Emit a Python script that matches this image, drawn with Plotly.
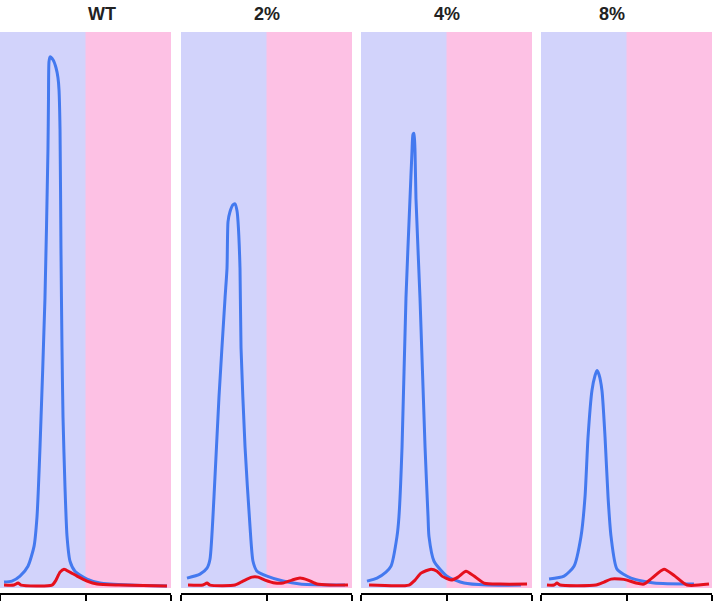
import plotly.graph_objects as go

# elution profiles (arbitrary units), one panel per sample
panels = ["WT", "2%", "4%", "8%"]

wt_blue_x = [0.47, 1.40, 2.34, 3.27, 3.98, 4.33, 4.68, 5.26, 5.61, 5.67, 5.73, 5.85, 6.20, 6.55, 6.78, 6.90,
             7.02, 7.13, 7.25, 7.37, 7.60, 7.84, 8.19, 8.77, 10.18, 11.70, 15.20, 19.53]
wt_blue_y = [2.2, 2.4, 3.4, 5.4, 9.4, 15.4, 29.4, 59.4, 89.4, 99.4, 107.0, 108.0, 107.4, 105.8, 103.8, 101.4,
             93.4, 69.4, 49.4, 35.4, 21.4, 11.4, 6.4, 4.4, 2.8, 2.0, 1.6, 1.4]
wt_red_x = [0.47, 1.64, 2.11, 2.46, 6.08, 6.55, 7.02, 7.49, 8.19, 9.01, 10.18, 11.35, 14.04, 19.53]
wt_red_y = [1.6, 1.6, 2.0, 1.6, 1.6, 2.6, 4.2, 4.8, 4.2, 3.4, 2.4, 1.8, 1.6, 1.4]

p2_blue_x = [0.70, 2.22, 3.04, 3.39, 3.86, 4.44, 5.15, 5.38, 5.50, 5.73, 6.08, 6.32, 6.55, 6.67, 6.90, 7.02,
             7.49, 8.07, 8.42, 8.89, 10.06, 11.93, 13.92, 17.78, 19.18]
p2_blue_y = [3.0, 3.8, 5.0, 6.8, 19.4, 39.4, 59.4, 65.4, 74.8, 76.8, 78.2, 78.4, 77.0, 74.8, 65.4, 49.4,
             29.4, 13.4, 6.4, 4.4, 3.4, 2.4, 1.8, 1.6, 1.6]
p2_red_x = [0.82, 2.57, 3.04, 3.39, 6.32, 7.25, 8.30, 9.01, 9.82, 10.99, 11.93, 12.98, 13.92, 14.85, 15.91,
            17.43, 19.53]
p2_red_y = [1.6, 1.6, 2.0, 1.6, 1.6, 2.4, 3.2, 3.2, 2.6, 2.0, 2.0, 2.6, 3.0, 2.6, 1.8, 1.6, 1.6]

p4_blue_x = [0.70, 1.87, 2.92, 3.51, 4.21, 4.44, 4.80, 5.26, 5.73, 5.96, 6.08, 6.20, 6.32, 6.43, 6.90, 7.49,
             7.84, 7.95, 8.54, 10.06, 12.05, 14.74, 18.71]
p4_blue_y = [2.4, 3.0, 4.2, 5.4, 11.4, 15.4, 29.4, 59.4, 79.4, 88.8, 92.4, 92.6, 88.8, 79.4, 59.4, 29.4,
             15.4, 11.4, 6.4, 3.4, 2.0, 1.6, 1.6]
p4_red_x = [0.94, 5.61, 6.32, 7.02, 8.19, 8.89, 9.47, 10.53, 11.35, 12.28, 13.22, 14.39, 16.26, 19.42]
p4_red_y = [1.6, 1.6, 2.6, 4.0, 4.8, 4.4, 3.4, 2.6, 3.2, 4.4, 3.4, 2.0, 1.8, 1.8]

p8_blue_x = [0.94, 2.69, 3.86, 4.68, 5.15, 5.50, 5.96, 6.32, 6.55, 6.78, 7.13, 7.49, 7.84, 8.19, 8.89,
             10.53, 13.22, 17.89]
p8_blue_y = [2.8, 3.4, 5.4, 11.4, 19.4, 31.4, 40.8, 43.8, 44.8, 44.0, 40.8, 31.4, 19.4, 11.4, 4.8,
             3.0, 2.0, 1.8]
p8_red_x = [0.70, 1.52, 1.87, 2.22, 6.43, 7.37, 8.19, 9.24, 10.06, 11.11, 12.05, 12.98, 14.39, 15.67,
            17.08, 19.65]
p8_red_y = [1.6, 1.6, 2.0, 1.6, 1.6, 2.2, 2.8, 2.8, 2.6, 2.0, 1.8, 3.0, 4.8, 3.4, 1.6, 1.8]

blue_x = [wt_blue_x, p2_blue_x, p4_blue_x, p8_blue_x]
blue_y = [wt_blue_y, p2_blue_y, p4_blue_y, p8_blue_y]
red_x = [wt_red_x, p2_red_x, p4_red_x, p8_red_x]
red_y = [wt_red_y, p2_red_y, p4_red_y, p8_red_y]

x_min, x_split, x_max = 0, 10, 20
y_max = 113
shade_bottom = 1.0

LAVENDER = "#d2d3fb"
PINK = "#fdc1e4"
BLUE = "#4479ef"
RED = "#e5101d"

W = 712
domains = [(0, 171 / W), (181 / W, 352 / W), (361 / W, 532 / W), (541 / W, 1)]

fig = go.Figure()
layout = dict(
    width=714, height=601,
    margin=dict(l=0, r=2, t=32, b=4),
    paper_bgcolor="white", plot_bgcolor="white",
    showlegend=False,
    font=dict(family="Liberation Sans, Arial", color="#222"),
)
shapes = []
annotations = []

for i, name in enumerate(panels):
    sfx = "" if i == 0 else str(i + 1)
    xa, ya = "x" + sfx, "y" + sfx
    layout["xaxis" + sfx] = dict(
        domain=list(domains[i]), range=[x_min, x_max], anchor=ya,
        showgrid=False, zeroline=False, showline=True, linecolor="black", linewidth=1.5,
        ticks="outside", tickvals=[x_min, x_split, x_max], ticklen=8, tickwidth=1.5,
        tickcolor="black", showticklabels=False, fixedrange=True,
    )
    layout["yaxis" + sfx] = dict(
        range=[0, y_max], anchor=xa, visible=False, fixedrange=True,
    )
    # pink first, lavender drawn over it so there is no seam at the split
    shapes.append(dict(type="rect", xref=xa, yref=ya, x0=x_min, x1=x_max, y0=shade_bottom, y1=y_max,
                       fillcolor=PINK, line_width=0, layer="below"))
    shapes.append(dict(type="rect", xref=xa, yref=ya, x0=x_min, x1=x_split, y0=shade_bottom, y1=y_max,
                       fillcolor=LAVENDER, line_width=0, layer="below"))
    annotations.append(dict(text="<b>%s</b>" % name, xref="paper", yref="paper",
                            x=(domains[i][0] + domains[i][1]) / 2, y=1, yanchor="middle", yshift=18,
                            showarrow=False, font=dict(size=18, color="#222")))

    fig.add_trace(go.Scatter(x=blue_x[i], y=blue_y[i], mode="lines", xaxis=xa, yaxis=ya,
                             line=dict(color=BLUE, width=3, shape="spline", smoothing=0.6)))
    fig.add_trace(go.Scatter(x=red_x[i], y=red_y[i], mode="lines", xaxis=xa, yaxis=ya,
                             line=dict(color=RED, width=3, shape="spline", smoothing=0.6)))

layout["shapes"] = shapes
layout["annotations"] = annotations
fig.update_layout(**layout)

# page has a default 8px body margin; drop it so the figure sits at the window origin
fig.write_html("out.html", config={"displayModeBar": False},
               post_script="document.body.style.margin='0px';")
